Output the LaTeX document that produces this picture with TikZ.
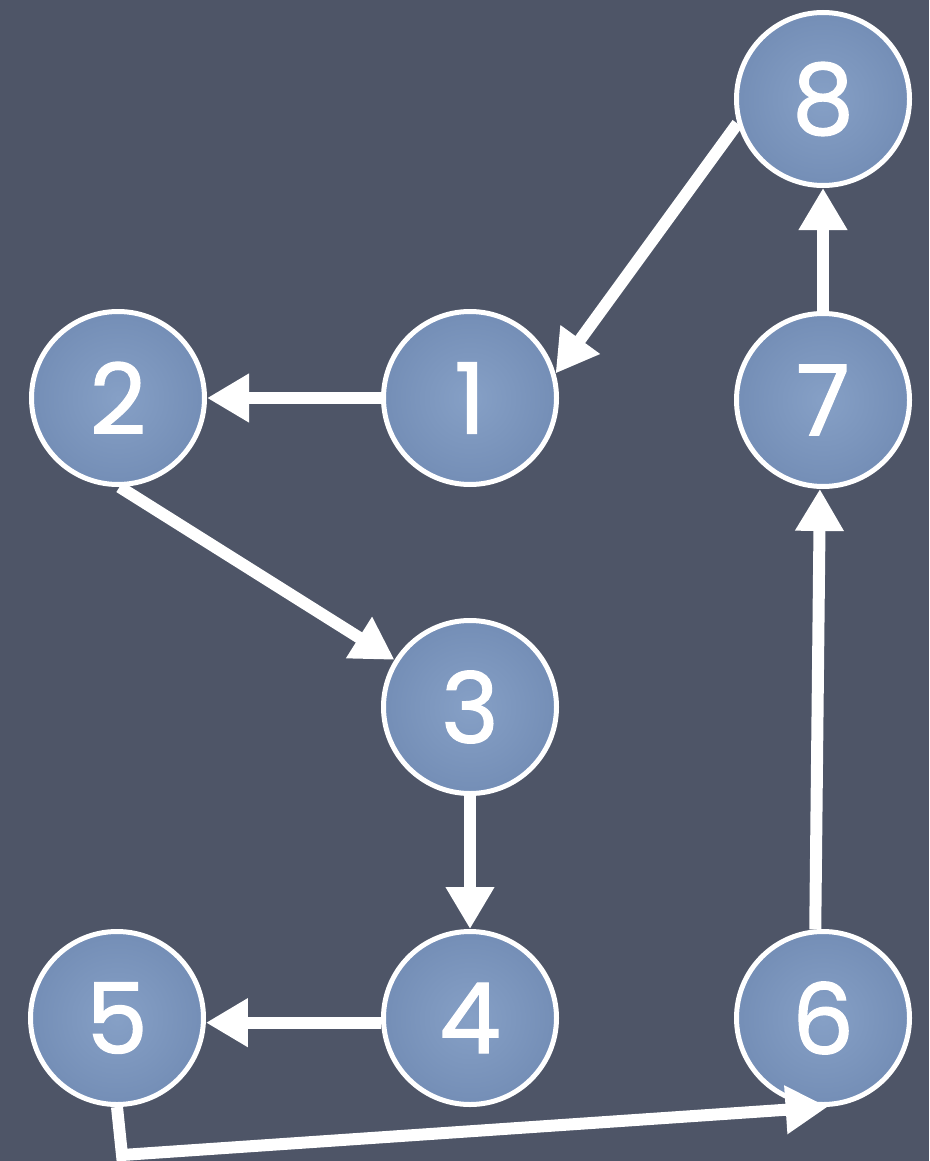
\documentclass[tikz,border=0pt]{standalone}
\usepackage{fontspec}
\setmainfont{Poppins}
\newfontfamily\digitfont{Poppins}[FakeBold=1.3]
\usetikzlibrary{arrows.meta}
\definecolor{slate}{RGB}{78,85,103}
\definecolor{discin}{RGB}{134,160,198}
\definecolor{discout}{RGB}{116,142,182}
\begin{document}
\begin{tikzpicture}[x=1pt,y=-1pt,
  vertex/.style={circle, draw=white, line width=5pt, minimum size=173pt,
    inner sep=0pt, inner color=discin, outer color=discout,
    text=white, font=\digitfont\fontsize{98}{98}\selectfont},
  edge/.style={draw=white, line width=12pt,
    -{Triangle[length=42pt,width=46pt]}}]
% board
\fill[slate] (0,0) rectangle (929,1161);
\useasboundingbox (0,0) rectangle (929,1161);

% discs
\node[vertex] (n1) at (470,398) {1};
\node[vertex] (n2) at (118,398) {2};
\node[vertex] (n3) at (470,707) {3};
\node[vertex] (n4) at (470,1018) {4};
\node[vertex] (n5) at (117,1018) {5};
\node[vertex] (n6) at (823,1018) {6};
\node[vertex] (n7) at (823,400) {7};
\node[vertex] (n8) at (823,99) {8};

% connectors
\coordinate (bend) at (122,1155);
\draw[edge] (n8.196) -- (n1.16);
\draw[edge] (n1.west) -- (n2.east);
\draw[edge] (n2.-89) -- (n3.148);
\draw[edge] (n3.south) -- (n4.north);
\draw[edge] (n4.183) -- (n5.-3);
\draw[edge] (n5.south) -- (bend) -- (n6.-87);
\draw[edge] (n6.95) -- (n7.-92);
\draw[edge] (n7.north) -- (n8.south);
\end{tikzpicture}
\end{document}
